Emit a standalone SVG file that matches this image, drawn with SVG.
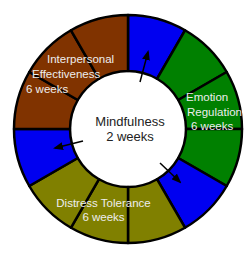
<svg xmlns="http://www.w3.org/2000/svg" width="250" height="262" viewBox="0 0 250 262">
<style>
.seg{stroke:#000;stroke-width:2.5;stroke-linejoin:round}
.blue{fill:#0000f0}.green{fill:#008000}.olive{fill:#808000}.brown{fill:#803300}
.lbl{font-family:"Liberation Sans",Arial,sans-serif;font-size:11.5px;fill:#eeeeee}
.ctr{font-family:"Liberation Sans",Arial,sans-serif;font-size:13px;fill:#222222;text-anchor:middle}
.arr{stroke:#000;stroke-width:1.5;fill:none;marker-end:url(#ah)}
</style>
<defs>
<marker id="ah" markerUnits="userSpaceOnUse" markerWidth="10" markerHeight="8" refX="8" refY="4" orient="auto" viewBox="0 0 10 8">
<path d="M0,0 L10,4 L0,8 Z" fill="#000"/>
</marker>
</defs>
<rect width="250" height="262" fill="#ffffff"/>
<g id="ring">
<path id="seg-blue-top" class="seg blue" d="M185,30.27 A114,114 0 0 0 128,15 L128,71 A58,58 0 0 1 157,78.77 Z"/>
<path id="seg-green-1" class="seg green" d="M226.73,72 A114,114 0 0 0 185,30.27 L157,78.77 A58,58 0 0 1 178.23,100 Z"/>
<path id="seg-green-2" class="seg green" d="M242,129 A114,114 0 0 0 226.73,72 L178.23,100 A58,58 0 0 1 186,129 Z"/>
<path id="seg-green-3" class="seg green" d="M226.73,186 A114,114 0 0 0 242,129 L186,129 A58,58 0 0 1 178.23,158 Z"/>
<path id="seg-blue-right" class="seg blue" d="M185,227.73 A114,114 0 0 0 226.73,186 L178.23,158 A58,58 0 0 1 157,179.23 Z"/>
<path id="seg-olive-1" class="seg olive" d="M128,243 A114,114 0 0 0 185,227.73 L157,179.23 A58,58 0 0 1 128,187 Z"/>
<path id="seg-olive-2" class="seg olive" d="M71,227.73 A114,114 0 0 0 128,243 L128,187 A58,58 0 0 1 99,179.23 Z"/>
<path id="seg-olive-3" class="seg olive" d="M29.27,186 A114,114 0 0 0 71,227.73 L99,179.23 A58,58 0 0 1 77.77,158 Z"/>
<path id="seg-blue-left" class="seg blue" d="M14,129 A114,114 0 0 0 29.27,186 L77.77,158 A58,58 0 0 1 70,129 Z"/>
<path id="seg-brown-1" class="seg brown" d="M29.27,72 A114,114 0 0 0 14,129 L70,129 A58,58 0 0 1 77.77,100 Z"/>
<path id="seg-brown-2" class="seg brown" d="M71,30.27 A114,114 0 0 0 29.27,72 L77.77,100 A58,58 0 0 1 99,78.77 Z"/>
<path id="seg-brown-3" class="seg brown" d="M128,15 A114,114 0 0 0 71,30.27 L99,78.77 A58,58 0 0 1 128,71 Z"/>
</g>
<g id="connectors">
<line class="arr" x1="140" y1="82" x2="148" y2="52"/>
<line class="arr" x1="160" y1="163" x2="180" y2="182"/>
<line class="arr" x1="83" y1="141" x2="55" y2="148"/>
</g>
<g id="node-interpersonal">
<text class="lbl" x="47" y="63">Interpersonal</text>
<text class="lbl" x="32" y="78">Effectiveness</text>
<text class="lbl" x="26" y="93">6 weeks</text>
</g>
<g id="node-emotion">
<text class="lbl" x="186" y="101">Emotion</text>
<text class="lbl" x="187" y="116">Regulation</text>
<text class="lbl" x="191" y="130">6 weeks</text>
</g>
<g id="node-distress">
<text class="lbl" x="103.5" y="207" text-anchor="middle">Distress Tolerance</text>
<text class="lbl" x="103.5" y="221" text-anchor="middle">6 weeks</text>
</g>
<g id="node-mindfulness">
<text class="ctr" x="130" y="126">Mindfulness</text>
<text class="ctr" x="130" y="141">2 weeks</text>
</g>
</svg>
